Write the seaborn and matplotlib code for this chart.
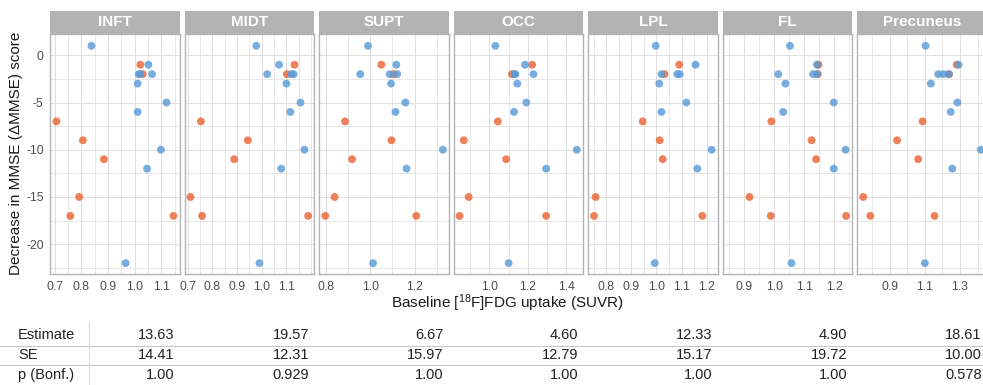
import numpy as np
import pandas as pd
import matplotlib
matplotlib.use("Agg")
import matplotlib.pyplot as plt
from matplotlib.lines import Line2D
import seaborn as sns

# ---------------- data ----------------
regions = ["INFT", "MIDT", "SUPT", "OCC", "LPL", "FL", "Precuneus"]

blue_y = [1, -1, -2, -2, -2, -3, -5, -6, -10, -12, -22]
orange_y = [-1, -2, -7, -9, -11, -15, -17, -17]

blue_inft = [0.838, 1.051, 1.015, 1.065, 1.020, 1.011, 1.119, 1.011, 1.098, 1.046, 0.966]
orange_inft = [1.021, 1.030, 0.707, 0.806, 0.885, 0.792, 0.759, 1.145]

blue_midt = [0.978, 1.070, 1.022, 1.120, 1.129, 1.100, 1.157, 1.116, 1.173, 1.079, 0.991]
orange_midt = [1.133, 1.102, 0.754, 0.944, 0.889, 0.712, 0.759, 1.188]

blue_supt = [0.990, 1.118, 0.955, 1.088, 1.122, 1.094, 1.159, 1.114, 1.328, 1.164, 1.013]
orange_supt = [1.050, 1.106, 0.886, 1.096, 0.918, 0.839, 0.797, 1.208]

blue_occ = [1.031, 1.185, 1.135, 1.229, 1.130, 1.145, 1.192, 1.128, 1.454, 1.295, 1.100]
orange_occ = [1.222, 1.117, 1.044, 0.867, 1.087, 0.892, 0.845, 1.295]

blue_lpl = [0.997, 1.156, 1.020, 1.083, 1.093, 1.011, 1.119, 1.020, 1.220, 1.163, 0.993]
orange_lpl = [1.091, 1.032, 0.945, 1.013, 1.025, 0.757, 0.751, 1.183]

blue_fl = [1.052, 1.142, 1.013, 1.129, 1.142, 1.037, 1.198, 1.029, 1.237, 1.198, 1.057]
orange_fl = [1.147, 1.145, 0.990, 1.124, 1.139, 0.917, 0.988, 1.239]

blue_prec = [1.104, 1.291, 1.176, 1.205, 1.237, 1.134, 1.285, 1.247, 1.418, 1.256, 1.100]
orange_prec = [1.281, 1.237, 1.087, 0.942, 1.062, 0.750, 0.790, 1.155]

blue_x = [blue_inft, blue_midt, blue_supt, blue_occ, blue_lpl, blue_fl, blue_prec]
orange_x = [orange_inft, orange_midt, orange_supt, orange_occ, orange_lpl, orange_fl, orange_prec]

x_limits = [(0.684, 1.168), (0.689, 1.212), (0.770, 1.354), (0.815, 1.487),
            (0.728, 1.244), (0.828, 1.259), (0.716, 1.451)]
x_ticks = [[0.7, 0.8, 0.9, 1.0, 1.1],
           [0.7, 0.8, 0.9, 1.0, 1.1],
           [0.8, 1.0, 1.2],
           [1.0, 1.2, 1.4],
           [0.8, 0.9, 1.0, 1.1, 1.2],
           [0.9, 1.0, 1.1, 1.2],
           [0.9, 1.1, 1.3]]
x_steps = [0.1, 0.1, 0.2, 0.2, 0.1, 0.1, 0.2]

y_ticks = [0, -5, -10, -15, -20]
y_tick_labels = ["0", "-5", "-10", "-15", "-20"]
y_limits = (-23.15, 2.25)

row_labels = ["Estimate", "SE", "p (Bonf.)"]
estimate = ["13.63", "19.57", "6.67", "4.60", "12.33", "4.90", "18.61"]
se = ["14.41", "12.31", "15.97", "12.79", "15.17", "19.72", "10.00"]
p_bonf = ["1.00", "0.929", "1.00", "1.00", "1.00", "1.00", "0.578"]

# ---------------- style ----------------
sns.set_theme(style="white")
plt.rcParams["font.family"] = ["Liberation Sans", "DejaVu Sans"]
plt.rcParams["mathtext.fontset"] = "custom"
plt.rcParams["mathtext.rm"] = "Liberation Sans"
plt.rcParams["mathtext.it"] = "Liberation Sans:italic"
plt.rcParams["mathtext.bf"] = "Liberation Sans:bold"
plt.rcParams["axes.unicode_minus"] = False

W, H = 983, 385
fig = plt.figure(figsize=(W / 100, H / 100), dpi=100)


def fx(px):
    return px / W


def fy(py):
    return 1 - py / H


palette = {"A": "#5A9BD6", "B": "#EB6536"}
grid_col = "#DEDEDE"
frame_col = "#B3B3B3"

panel_left0 = 50.3
pitch = 134.5
pw = 129.3
ptop, pbot = 34, 274
strip_top = 11

for i, reg in enumerate(regions):
    left = panel_left0 + i * pitch
    ax = fig.add_axes([fx(left), fy(pbot), pw / W, (pbot - ptop) / H])
    df = pd.DataFrame({
        "x": list(orange_x[i]) + list(blue_x[i]),
        "y": orange_y + blue_y,
        "group": ["B"] * len(orange_y) + ["A"] * len(blue_y),
    })
    sns.scatterplot(data=df, x="x", y="y", hue="group", palette=palette,
                    s=32, alpha=0.82, edgecolor="none", legend=False, ax=ax,
                    zorder=3)
    ax.set_xlim(*x_limits[i])
    ax.set_ylim(*y_limits)
    ax.set_xlabel("")
    ax.set_ylabel("")
    ax.set_xticks(x_ticks[i])
    ax.set_xticklabels([f"{v:.1f}" for v in x_ticks[i]])
    st = x_steps[i] / 2
    lo, hi = x_limits[i]
    mn = np.arange(np.floor(lo / st) * st, hi + st, st)
    mn = [m for m in mn if lo <= m <= hi and
          min(abs(m - t) for t in x_ticks[i]) > 1e-6]
    ax.set_xticks(mn, minor=True)
    ax.set_yticks(y_ticks)
    ax.set_yticks(np.arange(-22.5, 2.5, 5), minor=True)
    if i == 0:
        ax.set_yticklabels(y_tick_labels)
        ax.tick_params(axis="y", which="major", length=2.75, width=0.7,
                       color=frame_col, labelsize=8.8, labelcolor="#4D4D4D",
                       pad=2)
    else:
        ax.set_yticklabels([])
        ax.tick_params(axis="y", which="major", length=0)
    ax.tick_params(axis="y", which="minor", length=0)
    ax.tick_params(axis="x", which="major", length=2.75, width=0.7,
                   color=frame_col, labelsize=8.8, labelcolor="#4D4D4D", pad=2)
    ax.tick_params(axis="x", which="minor", length=0)
    ax.grid(which="major", color=grid_col, lw=0.7, zorder=0)
    ax.grid(which="minor", color=grid_col, lw=0.5, zorder=0)
    ax.set_axisbelow(True)
    for sp in ax.spines.values():
        sp.set_color(frame_col)
        sp.set_linewidth(1.0)
        sp.set_visible(True)

    # strip
    sax = fig.add_axes([fx(left), fy(ptop), pw / W, (ptop - strip_top) / H])
    sax.set_facecolor(frame_col)
    sax.set_xticks([])
    sax.set_yticks([])
    for sp in sax.spines.values():
        sp.set_visible(False)
    sax.text(0.5, 0.5, reg, color="white", fontsize=11, fontweight="bold",
             ha="center", va="center", transform=sax.transAxes)

# axis titles
fig.text(fx(16), fy(153), "Decrease in MMSE (\u0394MMSE) score", rotation=90,
         ha="center", va="center", fontsize=11, color="#1a1a1a")
fig.text(fx(507.5), fy(303), "Baseline [$^{18}$F]FDG uptake (SUVR)",
         ha="center", va="center", fontsize=11, color="#1a1a1a")

# table
row_y = [335, 355, 375]
rows = [estimate, se, p_bonf]
for r, (lab, vals) in enumerate(zip(row_labels, rows)):
    fig.text(fx(18), fy(row_y[r]), lab, ha="left", va="center",
             fontsize=10.5, color="#222222")
    for i, v in enumerate(vals):
        right = panel_left0 + i * pitch + pw - 5
        fig.text(fx(right), fy(row_y[r]), v, ha="right", va="center",
                 fontsize=10.5, color="#222222")

line_col = "#C8C8C8"
for ly in [346, 365]:
    fig.add_artist(Line2D([0, 1], [fy(ly), fy(ly)], color=line_col, lw=0.8,
                          transform=fig.transFigure))
fig.add_artist(Line2D([fx(89), fx(89)], [fy(322), fy(385)], color="#DDDDDD",
                      lw=0.8, transform=fig.transFigure))

fig.savefig("out.png", dpi=100)
